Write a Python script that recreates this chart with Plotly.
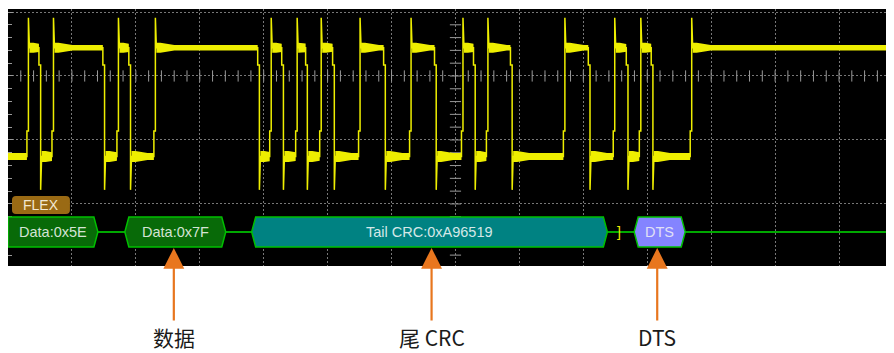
import plotly.graph_objects as go
import numpy as np

# ---------------- data ----------------
# Edge times of the FlexRay bus waveform (ns); edges alternate rise / fall, starting with a rise
edge_times_ns = [148, 242, 344, 742, 852, 945, 1141, 1953, 2047, 2141, 2250, 2328,
                 2438, 2539, 2742, 2938, 3141, 3336, 3547, 3641, 3742, 3930, 4344,
                 4539, 4734, 4836, 4938, 5031, 5336]
edge_kinds = ["R", "F"] * 14 + ["R"]

# Signal levels (V, 1 V/div)
level_high = 0.44
level_low = -1.26
level_overshoot = 0.91
level_undershoot = -1.78
level_rise_shelf = -0.86
level_fall_shelf = 0.17

# Decoded frames
frame_labels = ["Data:0x5E", "Data:0x7F", "Tail CRC:0xA96519", "DTS"]
frame_start_ns = [0, 914, 1906, 4898]
frame_end_ns = [703, 1703, 4688, 5297]
frame_fill = ["#086a08", "#086a08", "#008282", "#8484ff"]
frame_text_color = ["#d4e4d4", "#d4e4d4", "#d4e8e8", "#e0e0f6"]
bracket_ns = 4781

# Callouts under the screen
callout_labels = ["数据", "尾 CRC", "DTS"]
callout_x_ns = [1297, 3313, 5078]

# ---------------- scales ----------------
NS_PER_PX = 7.8125          # 500 ns / div, 64 px / div
V_PER_PX = 1 / 64.0
X_END = 6930
Y_TOP, Y_BOT = 1.047, -2.97
BUS_Y = -2.4375
BOX_HALF = 15 * V_PER_PX
BEVEL = 4 * NS_PER_PX
YELLOW = "#eeee00"

# ---------------- waveform ----------------
wx, wy = [0], [level_low]
for t, k in zip(edge_times_ns, edge_kinds):
    if k == "R":
        wx += [t, t, t + 1.5 * NS_PER_PX, t + 1.5 * NS_PER_PX, t + 2.5 * NS_PER_PX]
        wy += [level_low, level_rise_shelf, level_rise_shelf, level_overshoot, level_high]
    else:
        wx += [t, t, t + 1.7 * NS_PER_PX, t + 1.7 * NS_PER_PX, t + 2.7 * NS_PER_PX]
        wy += [level_high, level_fall_shelf, level_fall_shelf, level_undershoot, level_low]
wx.append(X_END)
wy.append(level_high)

# level bands (thick, ringing right after each edge)
bx, by = [], []
def band(x0, x1, yc, th0, th1, hold, taper):
    xh = min(x0 + hold, x1)
    xm = min(x0 + hold + taper, x1)
    frac = (xm - x0 - hold) / taper if xm > xh else 0
    th_m = th0 + (th1 - th0) * max(0.0, min(1.0, frac))
    xs = [x0, xh, xm, x1, x1, xm, xh, x0, x0, None]
    ys = [yc + th0 / 2, yc + th0 / 2, yc + th_m / 2, yc + th_m / 2 if xm == x1 else yc + th1 / 2,
          yc - (th_m / 2 if xm == x1 else th1 / 2), yc - th_m / 2, yc - th0 / 2, yc - th0 / 2,
          yc + th0 / 2, None]
    bx.extend(xs)
    by.extend(ys)

prev_t, prev_level = 0, "L"
for t, k in zip(edge_times_ns, edge_kinds):
    if prev_level == "L":
        if prev_t > 0:
            band(prev_t + 2.7 * NS_PER_PX, t, level_low, 11 * V_PER_PX, 7 * V_PER_PX,
                 4 * NS_PER_PX, 12 * NS_PER_PX)
        else:
            band(0, t, level_low, 7 * V_PER_PX, 7 * V_PER_PX, 0, 1)
    else:
        band(prev_t + 2.5 * NS_PER_PX, t, level_high, 10 * V_PER_PX, 5.5 * V_PER_PX,
             4 * NS_PER_PX, 14 * NS_PER_PX)
    prev_t = t
    prev_level = "H" if k == "R" else "L"
band(prev_t + 2.5 * NS_PER_PX, X_END, level_high, 10 * V_PER_PX, 5.5 * V_PER_PX,
     4 * NS_PER_PX, 14 * NS_PER_PX)

fig = go.Figure()

# crosshair tick marks
hx = np.arange(100, X_END, 100)
fig.add_trace(go.Scatter(x=hx, y=[0] * len(hx), mode="markers", hoverinfo="skip",
                         marker=dict(symbol="line-ns", size=8, line=dict(color="#9a9a9a", width=1))))
vy = np.arange(-2.8, 1.0, 0.2)
fig.add_trace(go.Scatter(x=[3500] * len(vy), y=vy, mode="markers", hoverinfo="skip",
                         marker=dict(symbol="line-ew", size=8, line=dict(color="#9a9a9a", width=1))))

# bus line
fig.add_trace(go.Scatter(x=[frame_end_ns[0], X_END], y=[BUS_Y, BUS_Y], mode="lines",
                         line=dict(color="#00a800", width=2), hoverinfo="skip"))

fig.add_trace(go.Scatter(x=bx, y=by, mode="lines", fill="toself", fillcolor=YELLOW,
                         line=dict(width=0, color=YELLOW), hoverinfo="skip"))
fig.add_trace(go.Scatter(x=wx, y=wy, mode="lines", line=dict(color=YELLOW, width=1.5),
                         hoverinfo="skip"))

shapes = []
annotations = []

# decoded frames as hexagons
for lab, s, e, fc, tc in zip(frame_labels, frame_start_ns, frame_end_ns, frame_fill, frame_text_color):
    top, bot = BUS_Y + BOX_HALF, BUS_Y - BOX_HALF
    if s <= 0:
        path = f"M {s},{top} L {e - BEVEL},{top} L {e},{BUS_Y} L {e - BEVEL},{bot} L {s},{bot} Z"
    else:
        path = (f"M {s},{BUS_Y} L {s + BEVEL},{top} L {e - BEVEL},{top} L {e},{BUS_Y} "
                f"L {e - BEVEL},{bot} L {s + BEVEL},{bot} Z")
    shapes.append(dict(type="path", path=path, xref="x", yref="y", fillcolor=fc,
                       line=dict(color="#00c000", width=1.5), layer="above"))
    annotations.append(dict(x=(s + e) / 2, y=BUS_Y, xref="x", yref="y", text=lab, showarrow=False,
                            font=dict(family="Liberation Sans, Arial", size=14.5, color=tc)))

annotations.append(dict(x=bracket_ns, y=BUS_Y, xref="x", yref="y", text="]", showarrow=False,
                        font=dict(family="Liberation Sans, Arial", size=14, color=YELLOW)))

# FLEX badge (rounded)
fx0, fx1 = 4 * NS_PER_PX, 62 * NS_PER_PX
fy0, fy1 = (76 - 214) * V_PER_PX, (76 - 196) * V_PER_PX
rx, ry = 4 * NS_PER_PX, 4 * V_PER_PX
flex_path = (f"M {fx0 + rx},{fy1} L {fx1 - rx},{fy1} Q {fx1},{fy1} {fx1},{fy1 - ry} "
             f"L {fx1},{fy0 + ry} Q {fx1},{fy0} {fx1 - rx},{fy0} L {fx0 + rx},{fy0} "
             f"Q {fx0},{fy0} {fx0},{fy0 + ry} L {fx0},{fy1 - ry} Q {fx0},{fy1} {fx0 + rx},{fy1} Z")
shapes.append(dict(type="path", path=flex_path, xref="x", yref="y", fillcolor="#9a6a14",
                   line=dict(width=0), layer="above"))
annotations.append(dict(x=(fx0 + fx1) / 2, y=(fy0 + fy1) / 2, xref="x", yref="y", text="FLEX",
                        showarrow=False,
                        font=dict(family="Liberation Sans, Arial", size=14, color="#f2e8d2")))

# callout arrows and labels
for lab, x in zip(callout_labels, callout_x_ns):
    annotations.append(dict(x=x, y=BUS_Y - BOX_HALF - 1 * V_PER_PX, xref="x", yref="y", text="",
                            showarrow=True, ax=0, ay=74, axref="pixel", ayref="pixel",
                            arrowhead=2, arrowsize=1.9, arrowwidth=2.2, arrowcolor="#e8761e",
                            standoff=0))
    annotations.append(dict(x=x, y=-0.337, xref="x", yref="paper", text=lab, showarrow=False,
                            yanchor="bottom", borderpad=0,
                            font=dict(family="Noto Sans CJK SC", size=21, color="#1a1a1a")))

# the page body adds an 8px offset, so the figure is sized to fit the window after it
fig.update_layout(
    width=886, height=345,
    margin=dict(l=0, r=0, t=1, b=87),
    paper_bgcolor="white", plot_bgcolor="black",
    showlegend=False,
    shapes=shapes, annotations=annotations,
    xaxis=dict(range=[0, X_END], tick0=0, dtick=500, showgrid=True, gridcolor="#777777",
               griddash="2px,2px", gridwidth=1, zeroline=False, showticklabels=False,
               ticks="", fixedrange=True),
    yaxis=dict(range=[Y_BOT, Y_TOP], tick0=0, dtick=1, showgrid=True, gridcolor="#777777",
               griddash="2px,2px", gridwidth=1, zeroline=False, showticklabels=False,
               ticks="inside", ticklen=5, tickcolor="#9a9a9a",
               minor=dict(dtick=0.2, ticks="inside", ticklen=4, tickcolor="#9a9a9a", showgrid=False),
               fixedrange=True),
)

fig.write_html("out.html")
